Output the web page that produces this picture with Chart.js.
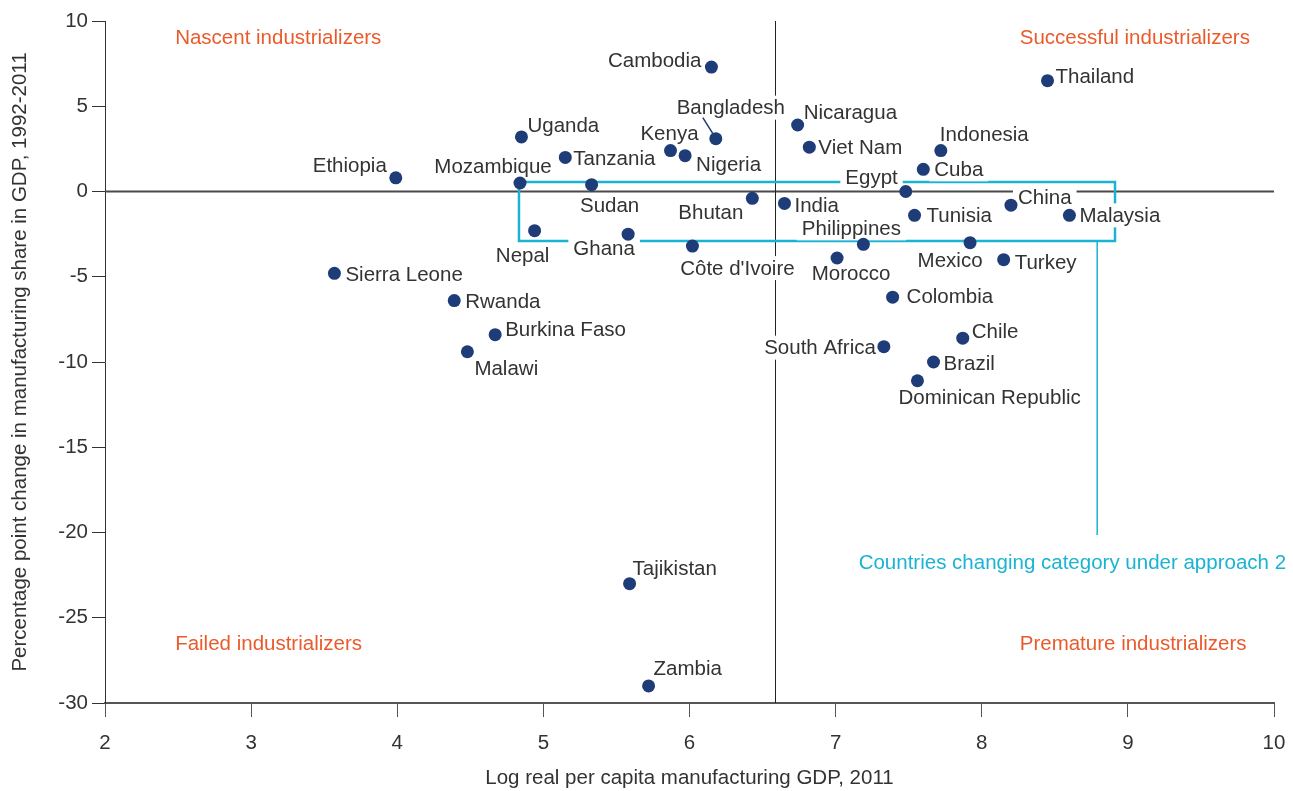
<!DOCTYPE html>
<html>
<head>
<meta charset="utf-8">
<script src="https://cdn.jsdelivr.net/npm/chart.js@4.4.1/dist/chart.umd.min.js"></script>
<style>
  html, body { margin: 0; padding: 0; background: #fff; }
  #wrap { width: 1293px; height: 791px; position: relative; }
</style>
</head>
<body>
<div id="wrap"><canvas id="chart"></canvas></div>
<script>
// ─── Data ──────────────────────────────────────────

const countries = [
  'Cambodia', 'Thailand', 'Nicaragua', 'Uganda', 'Bangladesh', 'Viet Nam', 'Indonesia',
  'Kenya', 'Nigeria', 'Tanzania', 'Cuba', 'Ethiopia', 'Mozambique', 'Sudan', 'Egypt',
  'Bhutan', 'India', 'China', 'Tunisia', 'Malaysia', 'Nepal', 'Ghana', 'Philippines',
  "Côte d'Ivoire", 'Mexico', 'Morocco', 'Turkey', 'Sierra Leone', 'Colombia', 'Rwanda',
  'Burkina Faso', 'Chile', 'South Africa', 'Malawi', 'Brazil', 'Dominican Republic',
  'Tajikistan', 'Zambia',
];
const logGdp = [
  6.15, 8.45, 6.74, 4.85, 6.18, 6.82, 7.72,
  5.87, 5.97, 5.15, 7.60, 3.99, 4.84, 5.33, 7.48,
  6.43, 6.65, 8.20, 7.54, 8.60, 4.94, 5.58, 7.19,
  6.02, 7.92, 7.01, 8.15, 3.57, 7.39, 4.39,
  4.67, 7.87, 7.33, 4.48, 7.67, 7.56,
  5.59, 5.72,
];
const shareChange = [
  7.3, 6.5, 3.9, 3.2, 3.1, 2.6, 2.4,
  2.4, 2.1, 2.0, 1.3, 0.8, 0.5, 0.4, 0.0,
  -0.4, -0.7, -0.8, -1.4, -1.4, -2.3, -2.5, -3.1,
  -3.2, -3.0, -3.9, -4.0, -4.8, -6.2, -6.4,
  -8.4, -8.6, -9.1, -9.4, -10.0, -11.1,
  -23.0, -29.0,
];

const xTicks = [2, 3, 4, 5, 6, 7, 8, 9, 10];
const yTicks = [-30, -25, -20, -15, -10, -5, 0, 5, 10];

const quadrants = [
  { text: 'Nascent industrializers', x: 2.48, y: 9.0 },
  { text: 'Successful industrializers', x: 8.26, y: 9.0 },
  { text: 'Failed industrializers', x: 2.48, y: -26.55 },
  { text: 'Premature industrializers', x: 8.26, y: -26.55 },
];

// threshold for the vertical divider
const gdpSplit = 6.585;

// box round the countries that switch category, plus its pointer line
const switchBox = { x0: 4.833, x1: 8.912, y0: 0.56, y1: -2.9 };
const switchPointer = { x: 8.79, yTop: -2.9, yBottom: -20.15 };
const switchNote = { text: 'Countries changing category under approach 2', x: 8.62, y: -21.8 };

// label placement: [align, dx, dy] in px from the marker
const labelSpots = {
  'Cambodia': ['right', -10, -7],
  'Thailand': ['left', 8, -4],
  'Nicaragua': ['left', 6, -13],
  'Uganda': ['left', 6, -12],
  'Bangladesh': ['center', 15, -31],
  'Viet Nam': ['left', 9, 0],
  'Indonesia': ['left', -1, -16],
  'Kenya': ['center', -1, -17],
  'Nigeria': ['left', 11, 9],
  'Tanzania': ['left', 8, 1],
  'Cuba': ['left', 11, 0],
  'Ethiopia': ['right', -9, -13],
  'Mozambique': ['center', -27, -17],
  'Sudan': ['center', 18, 21],
  'Egypt': ['right', -8, -14],
  'Bhutan': ['right', -9, 14],
  'India': ['left', 10, 2],
  'China': ['left', 7, -8],
  'Tunisia': ['left', 12, 0],
  'Malaysia': ['left', 10, 0],
  'Nepal': ['center', -12, 25],
  'Ghana': ['center', -24, 14],
  'Philippines': ['center', -12, -16],
  "Côte d'Ivoire": ['center', 45, 22],
  'Mexico': ['center', -20, 18],
  'Morocco': ['center', 14, 15],
  'Turkey': ['left', 11, 3],
  'Sierra Leone': ['left', 11, 1],
  'Colombia': ['left', 14, -1],
  'Rwanda': ['left', 11, 1],
  'Burkina Faso': ['left', 10, -5],
  'Chile': ['left', 9, -7],
  'South Africa': ['right', -8, 1],
  'Malawi': ['left', 7, 17],
  'Brazil': ['left', 10, 1],
  'Dominican Republic': ['left', -19, 17],
  'Tajikistan': ['left', 3, -15],
  'Zambia': ['left', 5, -18],
};

const FONT = "'Liberation Sans', Arial, sans-serif";
const SIZE = 20.5;
const TEXT = '#333333';
const ORANGE = '#ea5b2c';
const CYAN = '#1ab3d1';
const NAVY = '#1d3c78';

// ─── Overlay: dividers, bracket, labels ────────────

const overlay = {
  id: 'overlay',
  beforeDatasetsDraw(chart) {
    const { ctx, chartArea: a, scales: { x, y } } = chart;
    ctx.save();

    // zero line
    ctx.strokeStyle = '#4a4a4a';
    ctx.lineWidth = 2;
    ctx.beginPath();
    ctx.moveTo(a.left, y.getPixelForValue(0));
    ctx.lineTo(a.right, y.getPixelForValue(0));
    ctx.stroke();

    // vertical divider
    const vx = Math.round(x.getPixelForValue(gdpSplit)) + 0.5;
    ctx.strokeStyle = '#222';
    ctx.lineWidth = 1;
    ctx.beginPath();
    ctx.moveTo(vx, a.top);
    ctx.lineTo(vx, a.bottom);
    ctx.stroke();

    // category-switch bracket
    ctx.strokeStyle = CYAN;
    ctx.lineWidth = 2.5;
    ctx.beginPath();
    ctx.rect(
      x.getPixelForValue(switchBox.x0), y.getPixelForValue(switchBox.y0),
      x.getPixelForValue(switchBox.x1) - x.getPixelForValue(switchBox.x0),
      y.getPixelForValue(switchBox.y1) - y.getPixelForValue(switchBox.y0)
    );
    ctx.stroke();
    ctx.lineWidth = 1.5;
    ctx.beginPath();
    ctx.moveTo(x.getPixelForValue(switchPointer.x), y.getPixelForValue(switchPointer.yTop));
    ctx.lineTo(x.getPixelForValue(switchPointer.x), y.getPixelForValue(switchPointer.yBottom));
    ctx.stroke();

    ctx.font = `${SIZE}px ${FONT}`;
    ctx.textBaseline = 'middle';

    // note under the pointer
    ctx.fillStyle = CYAN;
    ctx.textAlign = 'center';
    ctx.fillText(switchNote.text, x.getPixelForValue(switchNote.x), y.getPixelForValue(switchNote.y));

    // quadrant names
    ctx.fillStyle = ORANGE;
    ctx.textAlign = 'left';
    quadrants.forEach((q) => {
      ctx.fillText(q.text, x.getPixelForValue(q.x), y.getPixelForValue(q.y));
    });

    // country labels on white patches so they knock out the lines
    countries.forEach((name, i) => {
      const [align, dx, dy] = labelSpots[name];
      const px = x.getPixelForValue(logGdp[i]);
      const py = y.getPixelForValue(shareChange[i]);
      const tx = px + dx;
      const ty = py + dy;
      const w = ctx.measureText(name).width;
      let left = tx;
      if (align === 'right') left = tx - w;
      else if (align === 'center') left = tx - w / 2;
      ctx.fillStyle = '#fff';
      ctx.fillRect(left - 5, ty - 12, w + 10, 24);
      ctx.fillStyle = TEXT;
      ctx.textAlign = align;
      ctx.fillText(name, tx, ty + 1);

      if (name === 'Bangladesh') {
        ctx.strokeStyle = NAVY;
        ctx.lineWidth = 1.5;
        ctx.beginPath();
        ctx.moveTo(px - 13, py - 21);
        ctx.lineTo(px - 3, py - 5);
        ctx.stroke();
      }
    });

    ctx.restore();
  },
};

// ─── Chart ─────────────────────────────────────────

new Chart(document.getElementById('chart'), {
  type: 'scatter',
  data: {
    datasets: [
      {
        data: countries.map((c, i) => ({ x: logGdp[i], y: shareChange[i] })),
        backgroundColor: NAVY,
        borderColor: NAVY,
        borderWidth: 0,
        pointRadius: 6.5,
        pointHoverRadius: 6.5,
      },
    ],
  },
  options: {
    responsive: true,
    maintainAspectRatio: false,
    animation: false,
    events: [],
    layout: { padding: { top: 21, right: 19, left: 0, bottom: 0 } },
    plugins: {
      legend: { display: false },
      tooltip: { enabled: false },
    },
    scales: {
      x: {
        type: 'linear',
        min: 2,
        max: 10,
        afterBuildTicks: (s) => { s.ticks = xTicks.map((v) => ({ value: v })); },
        afterFit: (s) => {
          s.height = 88;
          s.paddingLeft = 0;
          s.paddingRight = 0;
        },
        ticks: { color: TEXT, font: { family: FONT, size: SIZE }, padding: 14, maxRotation: 0 },
        grid: { drawOnChartArea: false, drawTicks: true, tickLength: 14, color: '#555', lineWidth: 1 },
        border: { display: true, color: '#555', width: 2 },
        title: {
          display: true,
          text: 'Log real per capita manufacturing GDP, 2011',
          color: TEXT,
          font: { family: FONT, size: SIZE },
          padding: { top: 0, bottom: 0 },
        },
      },
      y: {
        type: 'linear',
        min: -30,
        max: 10,
        afterBuildTicks: (s) => { s.ticks = yTicks.map((v) => ({ value: v })); },
        afterFit: (s) => {
          s.width = 105;
          s.paddingTop = 0;
          s.paddingBottom = 0;
        },
        ticks: { color: TEXT, font: { family: FONT, size: SIZE }, padding: 4 },
        grid: { drawOnChartArea: false, drawTicks: true, tickLength: 13, color: '#333', lineWidth: 1 },
        border: { display: true, color: '#333', width: 1 },
        title: {
          display: true,
          text: 'Percentage point change in manufacturing share in GDP, 1992-2011',
          color: TEXT,
          font: { family: FONT, size: SIZE },
          padding: { top: 8, bottom: 0 },
        },
      },
    },
  },
  plugins: [overlay],
});
</script>
</body>
</html>
